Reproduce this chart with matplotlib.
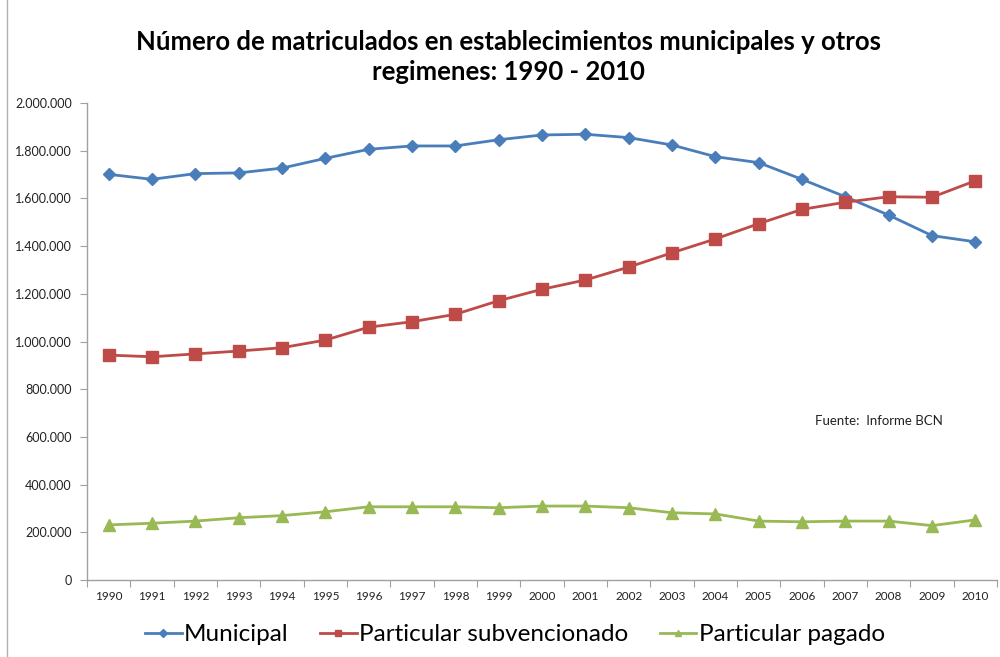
import matplotlib
matplotlib.use("Agg")
import matplotlib.pyplot as plt
from matplotlib.ticker import FuncFormatter, FixedLocator

years = list(range(1990, 2011))
municipal = [1701000, 1680000, 1704000, 1707000, 1727000, 1768000, 1806000, 1820000, 1820000,
             1846000, 1866000, 1869000, 1855000, 1824000, 1775000, 1750000, 1680000, 1607000,
             1530000, 1444000, 1418000]
subvencionado = [943000, 936000, 948000, 960000, 974000, 1006000, 1060000, 1083000, 1114000,
                 1171000, 1219000, 1258000, 1312000, 1372000, 1430000, 1494000, 1554000, 1584000,
                 1607000, 1605000, 1674000]
pagado = [231000, 238000, 247000, 261000, 270000, 286000, 307000, 307000, 307000, 303000,
          310000, 310000, 303000, 282000, 277000, 247000, 244000, 247000, 247000, 228000, 252000]

series_names = ["Municipal", "Particular subvencionado", "Particular pagado"]
title = "Número de matriculados en establecimientos municipales y otros\nregimenes: 1990 - 2010"
source_note = "Fuente:  Informe BCN"

plt.rcParams['font.family'] = ['Lato', 'DejaVu Sans']

fig = plt.figure(figsize=(10, 6.57), dpi=100)
ax = fig.add_axes([0.087, 0.1172, 0.910, 0.726])

ax.plot(years, municipal, color='#4A7EBB', lw=2, marker='D', ms=6.5, label=series_names[0])
ax.plot(years, subvencionado, color='#BE4B48', lw=2, marker='s', ms=8, label=series_names[1])
ax.plot(years, pagado, color='#98B954', lw=2, marker='^', ms=8, label=series_names[2])

ax.set_ylim(0, 2000000)
ax.set_xlim(years[0] - 0.5, years[-1] + 0.5)
ax.set_yticks(range(0, 2000001, 200000))
ax.yaxis.set_major_formatter(FuncFormatter(lambda v, p: f"{int(v):,}".replace(",", ".")))

# category ticks between years, labels at the years
ax.xaxis.set_major_locator(FixedLocator([y - 0.5 for y in years] + [years[-1] + 0.5]))
ax.xaxis.set_minor_locator(FixedLocator(years))
ax.set_xticklabels([])
ax.set_xticklabels([str(y) for y in years], minor=True)
ax.tick_params(axis='x', which='major', length=5, color='#A0A0A0', direction='out')
ax.tick_params(axis='x', which='minor', length=0, labelsize=8.5, pad=8, labelcolor='#222222')
ax.tick_params(axis='y', length=5, color='#A0A0A0', labelsize=9, labelcolor='#222222', pad=6)

for s in ['top', 'right']:
    ax.spines[s].set_visible(False)
for s in ['left', 'bottom']:
    ax.spines[s].set_color('#A0A0A0')
    ax.spines[s].set_linewidth(1)

fig.text(0.508, 0.913, title, ha='center', va='center', fontsize=18.5, fontweight='bold',
         linespacing=1.3)
fig.text(0.815, 0.359, source_note, fontsize=9.5, color='#222222', va='center')

fig.legend(loc='center', bbox_to_anchor=(0.515, 0.034), ncol=3, frameon=False, fontsize=17.5,
           handlelength=1.5, handletextpad=0.1, columnspacing=1.3, markerscale=0.6)

fig.add_artist(plt.Line2D([0.007, 0.007], [0, 1], color='#B0B0B0', lw=1,
                          transform=fig.transFigure))

fig.savefig("out.png", dpi=100)
